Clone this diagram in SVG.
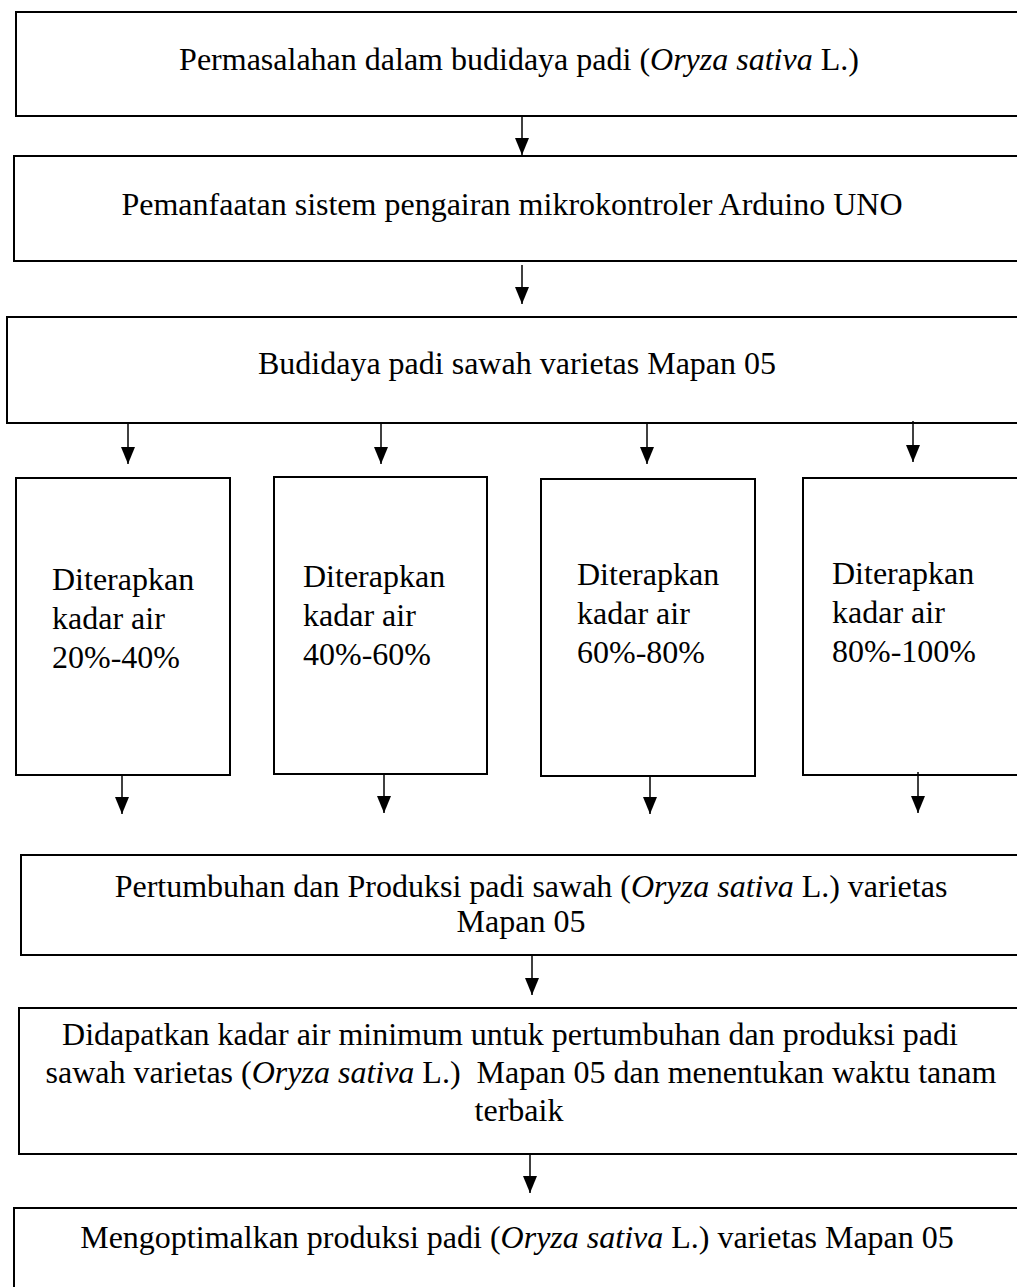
<svg xmlns="http://www.w3.org/2000/svg" width="1017" height="1287" viewBox="0 0 1017 1287">
<style>
.box{fill:#fff;stroke:#000;stroke-width:2}
.t{font-family:"Liberation Serif","Times New Roman",serif;font-size:32px;fill:#000}
.c{text-anchor:middle}
.i{font-style:italic}
.ln{stroke:#000;stroke-width:1.5;fill:none;marker-end:url(#arr)}
</style>
<defs>
<marker id="arr" markerUnits="userSpaceOnUse" markerWidth="17" markerHeight="14" viewBox="0 0 17 14" refX="17" refY="7" orient="auto">
<path d="M0,0 L17,7 L0,14 z" fill="#000"/>
</marker>
</defs>
<rect width="1017" height="1287" fill="#fff"/>
<g id="n1">
<rect class="box" x="16" y="12" width="1010" height="104"/>
<text class="t c" x="519" y="70">Permasalahan dalam budidaya padi (<tspan class="i">Oryza sativa</tspan> L.)</text>
</g>
<g id="n2">
<rect class="box" x="14" y="156" width="1012" height="105"/>
<text class="t c" x="512" y="215">Pemanfaatan sistem pengairan mikrokontroler Arduino UNO</text>
</g>
<g id="n3">
<rect class="box" x="7" y="317" width="1019" height="106"/>
<text class="t c" x="517" y="374">Budidaya padi sawah varietas Mapan 05</text>
</g>
<g id="n4">
<rect class="box" x="16" y="478" width="214" height="297"/>
<text class="t" x="52" y="590">Diterapkan</text>
<text class="t" x="52" y="629">kadar air</text>
<text class="t" x="52" y="668">20%-40%</text>
</g>
<g id="n5">
<rect class="box" x="274" y="477" width="213" height="297"/>
<text class="t" x="303" y="587">Diterapkan</text>
<text class="t" x="303" y="626">kadar air</text>
<text class="t" x="303" y="665">40%-60%</text>
</g>
<g id="n6">
<rect class="box" x="541" y="479" width="214" height="297"/>
<text class="t" x="577" y="585">Diterapkan</text>
<text class="t" x="577" y="624">kadar air</text>
<text class="t" x="577" y="663">60%-80%</text>
</g>
<g id="n7">
<rect class="box" x="803" y="478" width="223" height="297"/>
<text class="t" x="832" y="584">Diterapkan</text>
<text class="t" x="832" y="623">kadar air</text>
<text class="t" x="832" y="662">80%-100%</text>
</g>
<g id="n8">
<rect class="box" x="21" y="855" width="1005" height="100"/>
<text class="t c" x="531" y="897">Pertumbuhan dan Produksi padi sawah (<tspan class="i">Oryza sativa</tspan> L.) varietas</text>
<text class="t c" x="521" y="932">Mapan 05</text>
</g>
<g id="n9">
<rect class="box" x="19" y="1008" width="1007" height="146"/>
<text class="t c" x="510" y="1045">Didapatkan kadar air minimum untuk pertumbuhan dan produksi padi</text>
<text class="t c" x="521" y="1083" xml:space="preserve">sawah varietas (<tspan class="i">Oryza sativa</tspan> L.)  Mapan 05 dan menentukan waktu tanam</text>
<text class="t c" x="519" y="1121">terbaik</text>
</g>
<g id="n10">
<rect class="box" x="14" y="1208" width="1012" height="100"/>
<text class="t c" x="517" y="1248">Mengoptimalkan produksi padi (<tspan class="i">Oryza sativa</tspan> L.) varietas Mapan 05</text>
</g>
<g id="connectors">
<line class="ln" x1="522" y1="117" x2="522" y2="155"/>
<line class="ln" x1="522" y1="265" x2="522" y2="304"/>
<line class="ln" x1="128" y1="424" x2="128" y2="464"/>
<line class="ln" x1="381" y1="424" x2="381" y2="464"/>
<line class="ln" x1="647" y1="424" x2="647" y2="464"/>
<line class="ln" x1="913" y1="421" x2="913" y2="462"/>
<line class="ln" x1="122" y1="776" x2="122" y2="814"/>
<line class="ln" x1="384" y1="775" x2="384" y2="813"/>
<line class="ln" x1="650" y1="777" x2="650" y2="814"/>
<line class="ln" x1="918" y1="772" x2="918" y2="813"/>
<line class="ln" x1="532" y1="956" x2="532" y2="995"/>
<line class="ln" x1="530" y1="1155" x2="530" y2="1193"/>
</g>
</svg>
